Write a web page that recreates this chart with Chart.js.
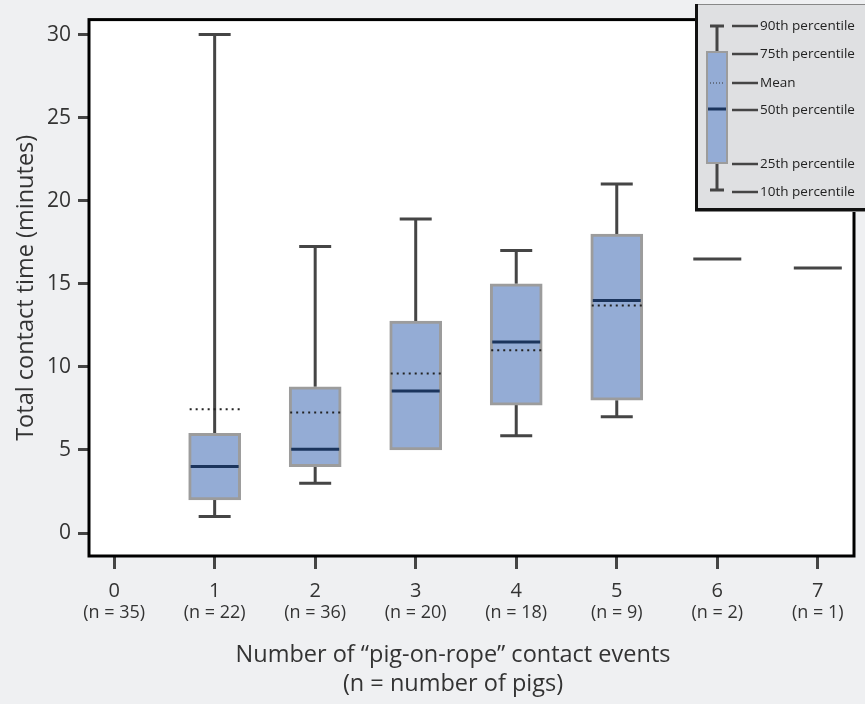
<!DOCTYPE html>
<html>
<head>
<meta charset="utf-8">
<script src="https://cdn.jsdelivr.net/npm/chart.js@4.4.1/dist/chart.umd.min.js"></script>
<style>
  html, body { margin: 0; padding: 0; background: #eff0f2; }
  #wrap { width: 865px; height: 704px; }
</style>
</head>
<body>
<div id="wrap"><canvas id="boxChart" width="865" height="704"></canvas></div>
<script>
// contact events (x categories) and number of pigs in each group
const categories = [0, 1, 2, 3, 4, 5, 6, 7];
const nLabels = ['(n = 35)', '(n = 22)', '(n = 36)', '(n = 20)', '(n = 18)', '(n = 9)', '(n = 2)', '(n = 1)'];

// total contact time (minutes)
const p10 = [null, 1, 3, 5, 5.85, 7, null, null];
const p25 = [null, 2, 4, 5, 7.7, 8, null, null];
const p50 = [null, 4, 5.05, 8.55, 11.5, 14, null, null];
const p75 = [null, 6, 8.8, 12.75, 15, 18, null, null];
const p90 = [null, 30, 17.25, 18.9, 17, 21, null, null];
const means = [null, 7.45, 7.25, 9.6, 11, 13.7, null, null];
// groups too small for a box are shown as a single line
const singleValues = [null, null, null, null, null, null, 16.5, 15.95];

const yTicks = [0, 5, 10, 15, 20, 25, 30];
const yTitle = 'Total contact time (minutes)';
const xTitleLines = ['Number of \u201cpig-on-rope\u201d contact events', '(n = number of pigs)'];
const legendLabels = ['90th percentile', '75th percentile', 'Mean', '50th percentile', '25th percentile', '10th percentile'];

const FONT = '"Open Sans", Lato, sans-serif';
const BOX_FILL = '#94acd5';
const BOX_EDGE = '#9c9c9c';
const WHISKER = '#454545';
const MEDIAN = '#1b345c';

Chart.defaults.font.family = FONT;
Chart.defaults.color = '#333';

const boxData = [];
categories.forEach((c, i) => {
  if (p25[i] != null) boxData.push({ x: c, y: [p25[i], p75[i]] });
});

function hLine(ctx, x1, x2, yy) {
  ctx.beginPath();
  ctx.moveTo(x1, yy);
  ctx.lineTo(x2, yy);
  ctx.stroke();
}

const boxExtras = {
  id: 'boxExtras',
  beforeDraw(chart) {
    // white plot area on the grey page
    const { ctx, chartArea: a } = chart;
    ctx.save();
    ctx.fillStyle = '#fff';
    ctx.fillRect(a.left, a.top, a.right - a.left, a.bottom - a.top);
    ctx.restore();
  },
  beforeDatasetsDraw(chart) {
    // whiskers sit behind the boxes
    const { ctx, scales: { x, y } } = chart;
    ctx.save();
    ctx.strokeStyle = WHISKER;
    ctx.lineWidth = 3;
    categories.forEach((c, i) => {
      if (p10[i] == null) return;
      const px = x.getPixelForValue(c);
      ctx.beginPath();
      ctx.moveTo(px, y.getPixelForValue(p90[i]));
      ctx.lineTo(px, y.getPixelForValue(p75[i]));
      ctx.moveTo(px, y.getPixelForValue(p25[i]));
      ctx.lineTo(px, y.getPixelForValue(p10[i]));
      ctx.stroke();
      if (p90[i] > p75[i]) hLine(ctx, px - 16, px + 16, y.getPixelForValue(p90[i]));
      if (p10[i] < p25[i]) hLine(ctx, px - 16, px + 16, y.getPixelForValue(p10[i]));
    });
    ctx.restore();
  },
  afterDatasetsDraw(chart) {
    const { ctx, scales: { x, y } } = chart;
    ctx.save();
    categories.forEach((c, i) => {
      const px = x.getPixelForValue(c);
      if (p50[i] != null) {
        ctx.strokeStyle = MEDIAN;
        ctx.lineWidth = 3;
        hLine(ctx, px - 24, px + 24, y.getPixelForValue(p50[i]));
      }
      if (means[i] != null) {
        ctx.strokeStyle = '#222';
        ctx.lineWidth = 2;
        ctx.setLineDash([2, 4]);
        hLine(ctx, px - 25, px + 26, y.getPixelForValue(means[i]));
        ctx.setLineDash([]);
      }
      if (singleValues[i] != null) {
        ctx.strokeStyle = WHISKER;
        ctx.lineWidth = 3;
        hLine(ctx, px - 24, px + 24, y.getPixelForValue(singleValues[i]));
      }
    });
    ctx.restore();
  },
  afterDraw(chart) {
    const { ctx, chartArea: a } = chart;
    ctx.save();
    // plot frame
    ctx.strokeStyle = '#000';
    ctx.lineWidth = 3;
    ctx.strokeRect(a.left, a.top, a.right - a.left, a.bottom - a.top);

    // x axis title, two lines
    ctx.fillStyle = '#333';
    ctx.font = '23.5px ' + FONT;
    ctx.textAlign = 'center';
    ctx.textBaseline = 'middle';
    xTitleLines.forEach((t, k) => ctx.fillText(t, 453, 655 + k * 29));

    // legend key, top right
    const lx = 695, ly = 4, lw = 175, lh = 207;
    ctx.fillStyle = '#dfe0e2';
    ctx.fillRect(lx, ly, lw, lh);
    ctx.strokeStyle = '#888';
    ctx.lineWidth = 1;
    ctx.strokeRect(lx + 0.5, ly + 0.5, lw, lh);
    ctx.strokeStyle = '#111';
    ctx.lineWidth = 3;
    ctx.beginPath();
    ctx.moveTo(lx + 1.5, ly);
    ctx.lineTo(lx + 1.5, ly + lh - 1.5);
    ctx.lineTo(lx + lw, ly + lh - 1.5);
    ctx.stroke();

    const kx = 717;
    const rows = [26, 54, 83, 110, 164, 192];
    ctx.strokeStyle = WHISKER;
    ctx.lineWidth = 3;
    ctx.beginPath();
    ctx.moveTo(kx, 26); ctx.lineTo(kx, 190);
    ctx.stroke();
    hLine(ctx, kx - 7, kx + 7, 26);
    hLine(ctx, kx - 7, kx + 7, 190);
    ctx.fillStyle = BOX_FILL;
    ctx.fillRect(kx - 10, 52, 20, 111);
    ctx.strokeStyle = BOX_EDGE;
    ctx.lineWidth = 2;
    ctx.strokeRect(kx - 10, 52, 20, 111);
    ctx.strokeStyle = MEDIAN;
    ctx.lineWidth = 3;
    hLine(ctx, kx - 9, kx + 9, 109);
    ctx.strokeStyle = '#333';
    ctx.lineWidth = 1;
    ctx.setLineDash([1, 2]);
    hLine(ctx, kx - 7, kx + 7, 83);
    ctx.setLineDash([]);

    ctx.font = '13.5px ' + FONT;
    ctx.textAlign = 'left';
    ctx.fillStyle = '#222';
    rows.forEach((ry, k) => {
      ctx.strokeStyle = WHISKER;
      ctx.lineWidth = 2.5;
      hLine(ctx, 732, 758, ry);
      ctx.fillText(legendLabels[k], 760, ry);
    });
    ctx.restore();
  }
};

new Chart(document.getElementById('boxChart'), {
  type: 'bar',
  data: {
    datasets: [{
      data: boxData,
      backgroundColor: BOX_FILL,
      borderColor: BOX_EDGE,
      borderWidth: 3,
      borderSkipped: false,
      barThickness: 52
    }]
  },
  options: {
    responsive: false,
    animation: false,
    layout: { padding: { top: 18, right: 11, left: 0, bottom: 0 } },
    plugins: {
      legend: { display: false },
      tooltip: { enabled: false }
    },
    scales: {
      x: {
        type: 'linear',
        position: 'bottom',
        min: -0.25,
        max: 7.36,
        offset: false,
        weight: 0,
        afterBuildTicks: s => { s.ticks = categories.map(v => ({ value: v })); },
        afterFit: s => { s.height = 46; },
        border: { display: false },
        grid: {
          offset: false,
          drawOnChartArea: false,
          drawTicks: true,
          tickLength: 13,
          tickColor: WHISKER,
          tickWidth: 3,
          lineWidth: 3,
          color: WHISKER
        },
        ticks: {
          padding: 10,
          maxRotation: 0,
          font: { size: 20 },
          color: '#333',
          callback: v => String(v)
        }
      },
      x2: {
        type: 'linear',
        axis: 'x',
        position: 'bottom',
        min: -0.25,
        max: 7.36,
        offset: false,
        weight: 1,
        afterBuildTicks: s => { s.ticks = categories.map(v => ({ value: v })); },
        afterFit: s => { s.height = 102; },
        border: { display: false },
        grid: { display: false, drawTicks: false },
        ticks: {
          padding: 0,
          maxRotation: 0,
          font: { size: 18 },
          color: '#333',
          callback: v => nLabels[categories.indexOf(v)]
        }
      },
      y: {
        type: 'linear',
        min: -1.38,
        max: 30.9,
        afterBuildTicks: s => { s.ticks = yTicks.map(v => ({ value: v })); },
        afterFit: s => { s.width = 89; },
        border: { display: false },
        grid: {
          drawOnChartArea: false,
          drawTicks: true,
          tickLength: 11,
          tickColor: WHISKER,
          tickWidth: 3,
          lineWidth: 3,
          color: WHISKER
        },
        ticks: {
          padding: 7,
          font: { size: 21 },
          color: '#333'
        },
        title: {
          display: true,
          text: yTitle,
          font: { size: 23.5 },
          color: '#333',
          padding: { top: 12, bottom: 0 }
        }
      }
    }
  },
  plugins: [boxExtras]
});
</script>
</body>
</html>
